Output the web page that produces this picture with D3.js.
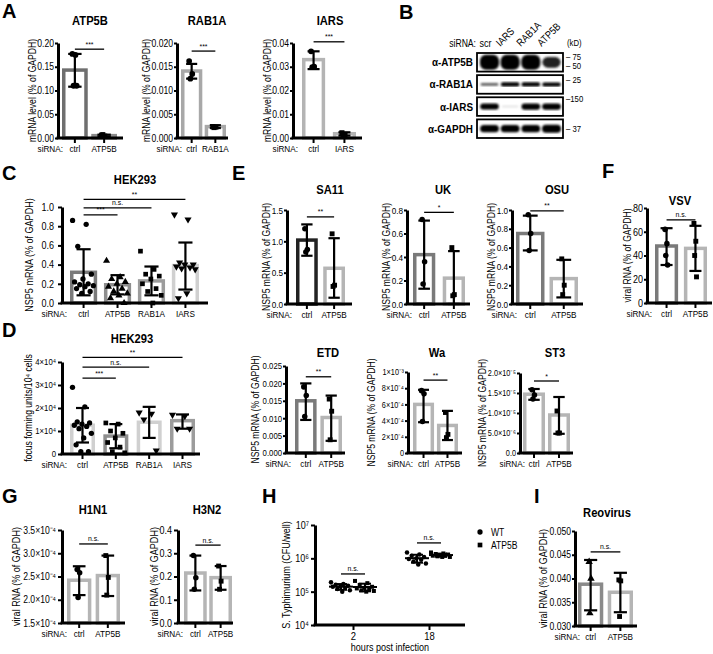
<!DOCTYPE html>
<html>
<head>
<meta charset="utf-8">
<script src="https://cdn.jsdelivr.net/npm/d3@7"></script>
<style>
  body { margin: 0; background: #fff; }
  svg { display: block; }
</style>
</head>
<body>
<svg width="713" height="654"></svg>
<script>
// ---------- A: knockdown efficiency
const aGenes = ["ATP5B", "RAB1A", "IARS"];
const aMeans = [[0.143, 0.005], [0.0141, 0.0024], [0.033, 0.0018]];
const aLow = [[0.108, 0.003], [0.0125, 0.0021], [0.029, 0.0010]];
const aHigh = [[0.177, 0.007], [0.0156, 0.0027], [0.0365, 0.0024]];
const aPoints = [
  [[0.177, 0.175, 0.110, 0.110], [0.006, 0.004, 0.007]],
  [[0.0162, 0.0135, 0.0125], [0.0024, 0.0023, 0.0022]],
  [[0.0365, 0.0300, 0.0298], [0.0022, 0.0015, 0.0012]]
];
const aTicks = [[0, 0.05, 0.10, 0.15, 0.20], [0, 0.005, 0.010, 0.015, 0.020], [0, 0.01, 0.02, 0.03, 0.04]];
const aTickLabels = [["0.00", "0.05", "0.10", "0.15", "0.20"], ["0.000", "0.005", "0.010", "0.015", "0.020"], ["0.00", "0.01", "0.02", "0.03", "0.04"]];
const aSig = ["***", "***", "***"];

// ---------- B: western blot
const blotLanes = ["scr", "IARS", "RAB1A", "ATP5B"];
const blotRows = ["α-ATP5B", "α-RAB1A", "α-IARS", "α-GAPDH"];
const blotIntensity = [[1, 1, 1, 0.72], [0.55, 0.85, 0.85, 0.8], [0.85, 0.12, 0.9, 0.9], [0.9, 0.9, 0.9, 1]];
const blotMarkers = [["75", "50"], ["25"], ["150"], ["37"]];

// ---------- C: HEK293 NSP5 mRNA
const hekCats = ["ctrl", "ATP5B", "RAB1A", "IARS"];
const cMeans = [0.32, 0.19, 0.23, 0.39];
const cLow = [0.08, 0.09, 0.08, 0.14];
const cHigh = [0.56, 0.29, 0.38, 0.63];
const cPoints = [
  [0.86, 0.82, 0.59, 0.30, 0.25, 0.22, 0.20, 0.19, 0.18, 0.17, 0.15, 0.12, 0.10],
  [0.44, 0.27, 0.25, 0.22, 0.20, 0.17, 0.15, 0.12, 0.10, 0.08, 0.05, 0.00],
  [0.54, 0.35, 0.30, 0.28, 0.25, 0.20, 0.15, 0.12, 0.08, 0.00],
  [0.92, 0.87, 0.42, 0.40, 0.40, 0.38, 0.37, 0.36, 0.35, 0.10, 0.05]
];
const cTicks = [0, 0.2, 0.4, 0.6, 0.8, 1.0];
const cTickLabels = ["0.0", "0.2", "0.4", "0.6", "0.8", "1.0"];
const cSig = ["***", "n.s.", "**"];

// ---------- D: HEK293 focus forming units
const dMeans = [1.25e4, 0.78e4, 1.38e4, 1.45e4];
const dLow = [0.5e4, 0.25e4, 0.7e4, 1.1e4];
const dHigh = [2.0e4, 1.3e4, 2.05e4, 1.72e4];
const dPoints = [
  [2.9e4, 2.05e4, 1.4e4, 1.35e4, 1.3e4, 1.25e4, 1.2e4, 1.1e4, 0.9e4, 0.7e4, 0.4e4, 0.1e4, 0.1e4],
  [1.35e4, 1.3e4, 1.0e4, 0.9e4, 0.7e4, 0.5e4, 0.3e4, 0.1e4, 0.05e4],
  [1.8e4, 1.75e4, 1.5e4, 0.15e4],
  [1.7e4, 1.65e4, 1.1e4, 1.1e4]
];
const dTicks = [0, 1e4, 2e4, 3e4, 4e4];
const dTickLabels = ["0", "1×10⁴", "2×10⁴", "3×10⁴", "4×10⁴"];
const dSig = ["***", "n.s.", "**"];

// ---------- E: rotavirus strains
const eStrains = ["SA11", "UK", "OSU", "ETD", "Wa", "ST3"];
const eMeans = [[1.02, 0.57], [0.42, 0.22], [0.75, 0.27], [0.015, 0.0102], [6.0e-4, 3.4e-4], [1.47e-5, 0.95e-5]];
const eLow = [[0.77, 0.10], [0.13, 0.0], [0.57, 0.07], [0.0095, 0.0035], [3.8e-4, 1.6e-4], [1.33e-5, 0.48e-5]];
const eHigh = [[1.27, 1.05], [0.71, 0.45], [0.94, 0.47], [0.020, 0.0165], [7.8e-4, 5.2e-4], [1.6e-5, 1.4e-5]];
const ePoints = [
  [[1.20, 0.87, 0.83], [1.12, 0.30, 0.28]],
  [[0.72, 0.36, 0.17], [0.48, 0.08, 0.07]],
  [[0.95, 0.75, 0.57], [0.48, 0.20, 0.10]],
  [[0.019, 0.0165, 0.0105], [0.0155, 0.012, 0.0038]],
  [[7.7e-4, 7.3e-4, 3.9e-4], [5.0e-4, 2.3e-4, 1.9e-4]],
  [[1.58e-5, 1.45e-5, 1.35e-5], [1.05e-5, 0.5e-5, 0.5e-5]]
];
const eTicks = [
  [0, 0.5, 1.0, 1.5], [0, 0.2, 0.4, 0.6, 0.8], [0, 0.2, 0.4, 0.6, 0.8, 1.0],
  [0, 0.005, 0.010, 0.015, 0.020, 0.025], [0, 2e-4, 4e-4, 6e-4, 8e-4, 1e-3], [0, 5e-6, 1e-5, 1.5e-5, 2e-5]
];
const eTickLabels = [
  ["0.0", "0.5", "1.0", "1.5"], ["0.0", "0.2", "0.4", "0.6", "0.8"], ["0.0", "0.2", "0.4", "0.6", "0.8", "1.0"],
  ["0.000", "0.005", "0.010", "0.015", "0.020", "0.025"],
  ["0", "2×10⁻⁴", "4×10⁻⁴", "6×10⁻⁴", "8×10⁻⁴", "1×10⁻³"],
  ["0.0", "5.0×10⁻⁶", "1.0×10⁻⁵", "1.5×10⁻⁵", "2.0×10⁻⁵"]
];
const eSig = ["**", "*", "**", "**", "**", "*"];

// ---------- F: VSV
const fMeans = [48, 46];
const fLow = [32, 27];
const fHigh = [63, 65];
const fPoints = [[62, 50, 40, 32], [67, 52, 40, 22]];
const fTicks = [0, 20, 40, 60, 80];
const fTickLabels = ["0", "20", "40", "60", "80"];

// ---------- G: influenza
const gViruses = ["H1N1", "H3N2"];
const gMeans = [[2.42e-4, 2.52e-4], [0.215, 0.195]];
const gLow = [[2.1e-4, 2.08e-4], [0.14, 0.143]];
const gHigh = [[2.72e-4, 2.95e-4], [0.29, 0.245]];
const gPoints = [[[2.65e-4, 2.58e-4, 2.05e-4], [2.95e-4, 2.48e-4, 2.1e-4]], [[0.29, 0.195, 0.145], [0.245, 0.18, 0.145]]];
const gTicks = [[1.5e-4, 2.0e-4, 2.5e-4, 3.0e-4, 3.5e-4], [0, 0.1, 0.2, 0.3, 0.4]];
const gTickLabels = [["1.5×10⁻⁴", "2.0×10⁻⁴", "2.5×10⁻⁴", "3.0×10⁻⁴", "3.5×10⁻⁴"], ["0.0", "0.1", "0.2", "0.3", "0.4"]];

// ---------- H: S. Typhimurium
const hHours = ["2", "18"];
const hStrains = ["WT", "ATP5B"];
const hPoints = [
  [[1.9e5, 1.7e5, 1.6e5, 1.5e5, 1.45e5, 1.4e5, 1.3e5, 1.2e5, 1.1e5, 1.0e5],
   [2.1e5, 1.8e5, 1.6e5, 1.4e5, 1.3e5, 1.25e5, 1.2e5, 1.1e5, 1.05e5, 1.0e5]],
  [[1.5e6, 1.3e6, 1.2e6, 1.1e6, 1.0e6, 0.95e6, 0.9e6, 0.8e6, 0.7e6, 0.65e6],
   [1.5e6, 1.4e6, 1.35e6, 1.3e6, 1.25e6, 1.2e6, 1.2e6, 1.15e6, 1.1e6, 1.1e6]]
];
const hTicks = [1e4, 1e5, 1e6, 1e7];
const hTickLabels = ["10⁴", "10⁵", "10⁶", "10⁷"];

// ---------- I: Reovirus
const iMeans = [0.0388, 0.0371];
const iLow = [0.0333, 0.0329];
const iHigh = [0.0439, 0.0412];
const iPoints = [[0.0435, 0.040, 0.0327], [0.0397, 0.0395, 0.032]];
const iTicks = [0.030, 0.035, 0.040, 0.045, 0.050];
const iTickLabels = ["0.030", "0.035", "0.040", "0.045", "0.050"];

// ================= drawing =================
const FONT = "'Liberation Sans', Arial, Helvetica, sans-serif";
const SQUEEZE = 0.86;
const svg = d3.select("svg").attr("font-family", FONT);
svg.append("rect").attr("width", 713).attr("height", 654).attr("fill", "#fff");

const shapes = { circle: d3.symbolCircle, square: d3.symbolSquare, up: d3.symbolTriangle, down: d3.symbolTriangle };

function jitter(j, n, spread) {
  if (n < 2 || !spread) return 0;
  return (((j * 0.618034) % 1) - 0.5) * spread;
}

function letter(t, x, y) {
  svg.append("text").attr("class", "letter").attr("x", x).attr("y", y)
    .attr("font-size", 20).attr("font-weight", "bold").text(t);
}

function drawBars(o) {
  const g = svg.append("g");
  const y = d3.scaleLinear().domain(o.domain).range([o.bottom, o.top]);
  const x = d3.scaleBand().domain(o.cats).range(o.bands).paddingInner(o.pad);
  const bw = x.bandwidth();
  const cx = c => x(c) + bw / 2;
  const tk = o.tickLen || 4, tp = o.tickPad ?? 2;

  g.append("text").attr("x", o.titleX).attr("y", o.titleY).attr("text-anchor", "middle")
    .attr("font-weight", "bold").attr("font-size", 13).text(o.title);

  g.append("g").selectAll("rect").data(o.cats).join("rect")
    .attr("x", c => x(c) + 1.75).attr("width", bw - 3.5)
    .attr("y", (c, i) => y(o.means[i]))
    .attr("height", (c, i) => Math.max(0, y(o.domain[0]) - y(o.means[i])))
    .attr("fill", "#fff").attr("stroke", (c, i) => o.colors[i]).attr("stroke-width", 3.5);

  const eb = g.append("g").attr("stroke", "#000").attr("stroke-width", 2.2);
  o.cats.forEach((c, i) => {
    eb.append("line").attr("x1", cx(c)).attr("x2", cx(c)).attr("y1", y(o.low[i])).attr("y2", y(o.high[i]));
    [o.low[i], o.high[i]].forEach(v => eb.append("line")
      .attr("x1", cx(c) - bw * 0.26).attr("x2", cx(c) + bw * 0.26).attr("y1", y(v)).attr("y2", y(v)));
  });

  o.cats.forEach((c, i) => {
    const pts = o.points[i];
    const sh = o.shapes[i];
    g.append("g").selectAll("path").data(pts).join("path")
      .attr("d", d3.symbol().type(shapes[sh]).size(o.dot || 22))
      .attr("transform", (d, j) => `translate(${cx(c) + jitter(j, pts.length, o.spread)},${y(d)})${sh === "down" ? " rotate(180)" : ""}`)
      .attr("fill", "#000");
  });

  // y axis
  const ya = g.append("g").attr("transform", `translate(${o.x0},0)`)
    .call(d3.axisLeft(y).tickValues(o.ticks).tickFormat((d, i) => o.tickLabels[i])
      .tickSize(tk).tickSizeOuter(0).tickPadding(tp));
  ya.attr("font-family", FONT).attr("font-size", o.tickFs || 10.5);
  ya.select(".domain").attr("stroke-width", 3);
  ya.selectAll(".tick line").attr("stroke-width", 2);
  ya.selectAll(".tick text").attr("fill", "#000");
  const maxW = d3.max(ya.selectAll(".tick text").nodes(), n => n.getComputedTextLength()) * SQUEEZE;

  // x axis
  g.append("line").attr("x1", o.x0 - 1.5).attr("x2", o.x1).attr("y1", o.bottom).attr("y2", o.bottom)
    .attr("stroke", "#000").attr("stroke-width", 3);
  const xa = g.append("g").attr("transform", `translate(0,${o.bottom})`)
    .call(d3.axisBottom(x).tickSize(5).tickSizeOuter(0).tickPadding(2));
  xa.select(".domain").remove();
  xa.attr("font-family", FONT).attr("font-size", 9.5);
  xa.selectAll(".tick line").attr("stroke-width", 2);
  xa.selectAll(".tick text").attr("fill", "#000");
  g.append("text").attr("x", o.x0 + 5).attr("y", o.bottom + 7).attr("dy", "0.71em")
    .attr("text-anchor", "end").attr("font-size", 9.5).text("siRNA:");

  // y label, kept clear of the tick labels
  const lx = Math.min(o.labelX, o.x0 - tk - tp - maxW - 1.5);
  g.append("text").attr("transform", `translate(${lx},${(o.top + o.bottom) / 2}) rotate(-90)`)
    .attr("text-anchor", "middle").attr("font-size", o.labelFs || 10.5).text(o.ylabel);

  // significance
  (o.sig || []).forEach(s => {
    const yy = y(s.at);
    g.append("line").attr("x1", cx(o.cats[0])).attr("x2", cx(s.to)).attr("y1", yy).attr("y2", yy)
      .attr("stroke", "#000").attr("stroke-width", 1.3);
    g.append("text").attr("x", (cx(o.cats[0]) + cx(s.to)) / 2).attr("y", yy - 2.5)
      .attr("text-anchor", "middle").attr("font-size", 8).text(s.label);
  });
}

// ---- A
letter("A", 2, 18);
const aLayout = [
  { x0: 58, x1: 123, bands: [62, 117], pad: 0.12, titleX: 90, labelX: 36, colors: ["#6f6f6f", "#8c8c8c"], sigAt: 0.187 },
  { x0: 177, x1: 228, bands: [181, 226], pad: 0.1, titleX: 207, labelX: 152, colors: ["#a8a8a8", "#a8a8a8"], sigAt: 0.0183 },
  { x0: 293, x1: 362, bands: [302, 356], pad: 0.25, titleX: 330, labelX: 273, colors: ["#b4b4b4", "#b4b4b4"], sigAt: 0.0405 }
];
aGenes.forEach((gene, k) => drawBars({
  ...aLayout[k], top: 43, bottom: 138, titleY: 25, title: gene, tickFs: 10, tickLen: 3, tickPad: 1,
  cats: ["ctrl", gene], means: aMeans[k], low: aLow[k], high: aHigh[k], points: aPoints[k],
  domain: [0, d3.max(aTicks[k])], ticks: aTicks[k], tickLabels: aTickLabels[k],
  ylabel: "mRNA level (% of GAPDH)", labelFs: 10, shapes: ["circle", "square"], spread: 5, dot: 26,
  sig: [{ to: gene, label: aSig[k], at: aLayout[k].sigAt }]
}));

// ---- B
letter("B", 399, 19);
(function blot() {
  const g = svg.append("g");
  const defs = svg.append("defs");
  defs.append("filter").attr("id", "soft").append("feGaussianBlur").attr("stdDeviation", 0.8);
  const lanes = d3.scaleBand().domain(blotLanes).range([480, 561]).paddingInner(0.08);
  const rows = d3.scaleBand().domain(blotRows).range([53, 138]).paddingInner(0.16);
  const thick = [15, 5, 7, 8];
  const markerPos = [[0.2, 0.68], [0.28], [0.1], [0.5]];

  g.append("text").attr("x", 476).attr("y", 47).attr("text-anchor", "end").attr("font-size", 10).text("siRNA:");
  blotLanes.forEach((l, i) => {
    const cx = lanes(l) + lanes.bandwidth() / 2;
    if (i === 0) {
      g.append("text").attr("x", cx - 4).attr("y", 47).attr("text-anchor", "middle").attr("font-size", 10.5).text(l);
    } else {
      g.append("text").attr("transform", `translate(${cx - 10},47) rotate(-45)`).attr("font-size", 10.5).text(l);
    }
  });
  g.append("text").attr("x", 567).attr("y", 46).attr("font-size", 9).text("(kD)");

  blotRows.forEach((r, ri) => {
    const y0 = rows(r), h = rows.bandwidth(), cy = y0 + h / 2;
    g.append("text").attr("x", 473).attr("y", cy).attr("dy", "0.35em").attr("text-anchor", "end")
      .attr("font-size", 11.5).attr("font-weight", "bold").text(r);
    const bands = g.append("g").attr("filter", "url(#soft)");
    blotLanes.forEach((l, li) => {
      const v = blotIntensity[ri][li];
      const bh = Math.max(1.5, thick[ri] * v);
      const bwid = lanes.bandwidth() * (0.85 + 0.15 * v);
      const bx = lanes(l) + (lanes.bandwidth() - bwid) / 2;
      bands.append("rect").attr("x", bx).attr("width", bwid).attr("y", cy - bh / 2).attr("height", bh)
        .attr("rx", Math.min(bh / 2, 6)).attr("fill", d3.interpolateGreys(Math.min(1, 0.1 + 1.1 * v)));
    });
    g.append("rect").attr("x", 477).attr("y", y0).attr("width", 86).attr("height", h)
      .attr("fill", "none").attr("stroke", "#000").attr("stroke-width", 1.8);
    blotMarkers[ri].forEach((m, mi) => {
      g.append("text").attr("x", 566).attr("y", y0 + h * markerPos[ri][mi]).attr("dy", "0.35em")
        .attr("font-size", 9).text((m.length > 2 ? "–" : "– ") + m);
    });
  });
})();

// ---- C
letter("C", 2, 180);
drawBars({
  x0: 62, x1: 208, top: 207, bottom: 303, bands: [70, 199], pad: 0.2,
  title: "HEK293", titleX: 135, titleY: 184, labelX: 33, tickPad: 4,
  cats: hekCats, means: cMeans, low: cLow, high: cHigh, points: cPoints,
  domain: [0, 1], ticks: cTicks, tickLabels: cTickLabels,
  ylabel: "NSP5 mRNA (% of GAPDH)", colors: ["#7a7a7a", "#8e8e8e", "#9c9c9c", "#d0d0d0"],
  shapes: ["circle", "up", "square", "down"], spread: 22, dot: 22,
  sig: [{ to: "ATP5B", label: cSig[0], at: 0.917 }, { to: "RAB1A", label: cSig[1], at: 0.99 }, { to: "IARS", label: cSig[2], at: 1.08 }]
});

// ---- D
letter("D", 2, 337);
drawBars({
  x0: 62, x1: 200, top: 362, bottom: 454, bands: [70, 195], pad: 0.25,
  title: "HEK293", titleX: 132, titleY: 343, labelX: 32, tickFs: 9,
  cats: hekCats, means: dMeans, low: dLow, high: dHigh, points: dPoints,
  domain: [0, 4e4], ticks: dTicks, tickLabels: dTickLabels,
  ylabel: "focus forming units/10⁴ cells", labelFs: 10, colors: ["#d0d0d0", "#8e8e8e", "#d0d0d0", "#9c9c9c"],
  shapes: ["circle", "square", "down", "down"], spread: 20, dot: 22,
  sig: [{ to: "ATP5B", label: dSig[0], at: 3.30e4 }, { to: "RAB1A", label: dSig[1], at: 3.78e4 }, { to: "IARS", label: dSig[2], at: 4.2e4 }]
});

// ---- E
letter("E", 232, 180);
const eLayout = [
  { x0: 287, x1: 352, top: 210, bottom: 304, bands: [296, 345], pad: 0.2, titleX: 330, titleY: 194, labelX: 272, colors: ["#222", "#b5b5b5"], sigAt: 1.39, tickFs: 9.5 },
  { x0: 407, x1: 470, top: 210, bottom: 304, bands: [413, 465], pad: 0.25, titleX: 443, titleY: 194, labelX: 390, colors: ["#7a7a7a", "#b5b5b5"], sigAt: 0.78, tickFs: 9.5 },
  { x0: 512, x1: 583, top: 210, bottom: 304, bands: [516, 578], pad: 0.15, titleX: 557, titleY: 194, labelX: 503, colors: ["#7a7a7a", "#b5b5b5"], sigAt: 0.99, tickFs: 9.5 },
  { x0: 286, x1: 345, top: 366, bottom: 453, bands: [295, 342], pad: 0.15, titleX: 328, titleY: 357, labelX: 259, colors: ["#7a7a7a", "#b5b5b5"], sigAt: 0.0219, tickFs: 9 },
  { x0: 408, x1: 462, top: 372, bottom: 453, bands: [413, 458], pad: 0.12, titleX: 437, titleY: 357, labelX: 375, colors: ["#b5b5b5", "#b5b5b5"], sigAt: 0.90e-3, tickFs: 8.5 },
  { x0: 520, x1: 573, top: 373, bottom: 453, bands: [523, 570], pad: 0.12, titleX: 555, titleY: 357, labelX: 488, colors: ["#b5b5b5", "#b5b5b5"], sigAt: 1.80e-5, tickFs: 8.5 }
];
eStrains.forEach((s, k) => drawBars({
  ...eLayout[k], title: s, tickLen: 3, tickPad: 1,
  cats: ["ctrl", "ATP5B"], means: eMeans[k], low: eLow[k], high: eHigh[k], points: ePoints[k],
  domain: [0, d3.max(eTicks[k])], ticks: eTicks[k], tickLabels: eTickLabels[k],
  ylabel: "NSP5 mRNA (% of GAPDH)", labelFs: 10, shapes: ["circle", "square"], spread: 4, dot: 24,
  sig: [{ to: "ATP5B", label: eSig[k], at: eLayout[k].sigAt }]
}));

// ---- F
letter("F", 602, 178);
drawBars({
  x0: 647, x1: 712, top: 208, bottom: 303, bands: [655, 707], pad: 0.2,
  title: "VSV", titleX: 680, titleY: 205, labelX: 633, tickFs: 10.5, tickLen: 3, tickPad: 1,
  cats: ["ctrl", "ATP5B"], means: fMeans, low: fLow, high: fHigh, points: fPoints,
  domain: [0, 80], ticks: fTicks, tickLabels: fTickLabels,
  ylabel: "viral RNA (% of GAPDH)", labelFs: 10, colors: ["#7a7a7a", "#b5b5b5"],
  shapes: ["circle", "square"], spread: 3, dot: 24,
  sig: [{ to: "ATP5B", label: "n.s.", at: 70 }]
});

// ---- G
letter("G", 2, 503);
const gLayout = [
  { x0: 62, x1: 125, bands: [67, 120], pad: 0.15, titleX: 93, labelX: 20, domain: [1.5e-4, 3.5e-4], sigAt: 3.2e-4, tickFs: 10 },
  { x0: 178, x1: 233, bands: [184, 232], pad: 0.1, titleX: 207, labelX: 158, domain: [0, 0.4], sigAt: 0.335, tickFs: 10.5 }
];
gViruses.forEach((v, k) => drawBars({
  ...gLayout[k], top: 530, bottom: 623, titleY: 514, title: v,
  cats: ["ctrl", "ATP5B"], means: gMeans[k], low: gLow[k], high: gHigh[k], points: gPoints[k],
  ticks: gTicks[k], tickLabels: gTickLabels[k],
  ylabel: "viral RNA (% of GAPDH)", colors: ["#b5b5b5", "#b5b5b5"],
  shapes: ["circle", "square"], spread: 4, dot: 24,
  sig: [{ to: "ATP5B", label: "n.s.", at: gLayout[k].sigAt }]
}));

// ---- H
letter("H", 262, 503);
(function panelH() {
  const g = svg.append("g");
  const top = 525, bottom = 625, x0 = 315, x1 = 465;
  const y = d3.scaleLog().domain([1e4, 1e7]).range([bottom, top]);
  const xh = d3.scalePoint().domain(hHours).range([353, 429]);
  const xs = d3.scaleBand().domain(hStrains).range([-24, 24]);
  const off = s => xs(s) + xs.bandwidth() / 2;
  const shp = { WT: "circle", ATP5B: "square" };

  hHours.forEach((h, i) => {
    hStrains.forEach((s, j) => {
      const vals = hPoints[i][j];
      const cx = xh(h) + off(s);
      const m = d3.mean(vals), sd = d3.deviation(vals);
      g.append("g").selectAll("path").data(vals).join("path")
        .attr("d", d3.symbol().type(shapes[shp[s]]).size(16))
        .attr("transform", (d, k) => `translate(${cx + jitter(k, vals.length, 20)},${y(d)})`)
        .attr("fill", "#000");
      const l = g.append("g").attr("stroke", "#000").attr("stroke-width", 2);
      l.append("line").attr("x1", cx - 12).attr("x2", cx + 12).attr("y1", y(m)).attr("y2", y(m));
      l.append("line").attr("x1", cx).attr("x2", cx).attr("y1", y(m - sd)).attr("y2", y(m + sd));
      [m - sd, m + sd].forEach(v => l.append("line").attr("x1", cx - 6).attr("x2", cx + 6).attr("y1", y(v)).attr("y2", y(v)));
    });
    const sy = y([3.4e5, 2.9e6][i]);
    g.append("line").attr("x1", xh(h) + off("WT")).attr("x2", xh(h) + off("ATP5B")).attr("y1", sy).attr("y2", sy)
      .attr("stroke", "#000").attr("stroke-width", 1.3);
    g.append("text").attr("x", xh(h)).attr("y", sy - 3).attr("text-anchor", "middle").attr("font-size", 8).text("n.s.");
  });

  const ya = g.append("g").attr("transform", `translate(${x0},0)`)
    .call(d3.axisLeft(y).tickValues(hTicks).tickFormat((d, i) => hTickLabels[i]).tickSize(4).tickSizeOuter(0).tickPadding(2));
  ya.attr("font-family", FONT).attr("font-size", 10.5);
  ya.select(".domain").attr("stroke-width", 3);
  ya.selectAll(".tick line").attr("stroke-width", 2);
  ya.selectAll(".tick text").attr("fill", "#000");

  g.append("line").attr("x1", x0 - 1.5).attr("x2", x1).attr("y1", bottom).attr("y2", bottom)
    .attr("stroke", "#000").attr("stroke-width", 3);
  const xa = g.append("g").attr("transform", `translate(0,${bottom})`)
    .call(d3.axisBottom(xh).tickSize(5).tickSizeOuter(0).tickPadding(2));
  xa.select(".domain").remove();
  xa.attr("font-family", FONT).attr("font-size", 11);
  xa.selectAll(".tick line").attr("stroke-width", 2);
  xa.selectAll(".tick text").attr("fill", "#000");

  g.append("text").attr("x", 390).attr("y", 651).attr("text-anchor", "middle").attr("font-size", 10.5).text("hours post infection");
  g.append("text").attr("transform", `translate(290,${(top + bottom) / 2}) rotate(-90)`)
    .attr("text-anchor", "middle").attr("font-size", 10.5).text("S. Typhimurium (CFU/well)");

  hStrains.forEach((s, j) => {
    const ly = 532 + j * 13;
    g.append("path").attr("d", d3.symbol().type(shapes[shp[s]]).size(22)).attr("transform", `translate(480,${ly})`);
    g.append("text").attr("x", 491).attr("y", ly).attr("dy", "0.35em").attr("font-size", 10).text(s);
  });
})();

// ---- I
letter("I", 534, 503);
drawBars({
  x0: 575, x1: 637, top: 531, bottom: 626, bands: [578, 633], pad: 0.15,
  title: "Reovirus", titleX: 607, titleY: 517, labelX: 547, tickFs: 10, tickLen: 3, tickPad: 1,
  cats: ["ctrl", "ATP5B"], means: iMeans, low: iLow, high: iHigh, points: iPoints,
  domain: [0.030, 0.050], ticks: iTicks, tickLabels: iTickLabels,
  ylabel: "viral RNA (% of GAPDH)", colors: ["#8a8a8a", "#b5b5b5"],
  shapes: ["up", "square"], spread: 3, dot: 24,
  sig: [{ to: "ATP5B", label: "n.s.", at: 0.0456 }]
});

// narrow the type a little, as in the source figure
svg.selectAll("text").filter(function () { return !this.classList.contains("letter"); }).each(function () {
  const len = this.getComputedTextLength();
  if (len > 0) d3.select(this).attr("textLength", len * SQUEEZE).attr("lengthAdjust", "spacingAndGlyphs");
});
</script>
</body>
</html>
